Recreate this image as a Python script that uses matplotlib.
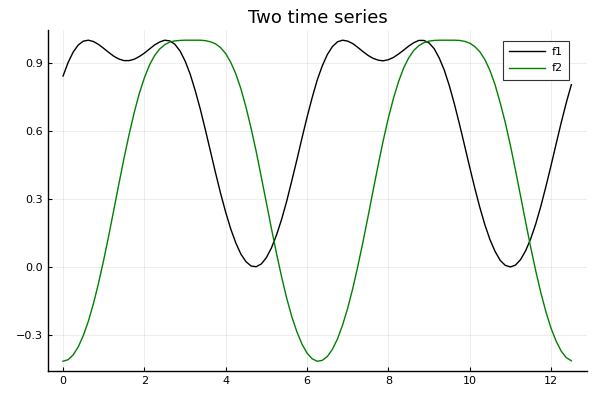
import matplotlib.pyplot as plt

# sample positions and the two series
t = [0.0, 0.125, 0.25, 0.375, 0.5, 0.625, 0.75, 0.875, 1.0, 1.125, 1.25,
     1.375, 1.5, 1.625, 1.75, 1.875, 2.0, 2.125, 2.25, 2.375, 2.5, 2.625,
     2.75, 2.875, 3.0, 3.125, 3.25, 3.375, 3.5, 3.625, 3.75, 3.875, 4.0,
     4.125, 4.25, 4.375, 4.5, 4.625, 4.75, 4.875, 5.0, 5.125, 5.25, 5.375,
     5.5, 5.625, 5.75, 5.875, 6.0, 6.125, 6.25, 6.375, 6.5, 6.625, 6.75,
     6.875, 7.0, 7.125, 7.25, 7.375, 7.5, 7.625, 7.75, 7.875, 8.0, 8.125,
     8.25, 8.375, 8.5, 8.625, 8.75, 8.875, 9.0, 9.125, 9.25, 9.375, 9.5,
     9.625, 9.75, 9.875, 10.0, 10.125, 10.25, 10.375, 10.5, 10.625, 10.75,
     10.875, 11.0, 11.125, 11.25, 11.375, 11.5, 11.625, 11.75, 11.875,
     12.0, 12.125, 12.25, 12.375, 12.5]
f1 = [0.842, 0.902, 0.948, 0.979, 0.996, 1.000, 0.994, 0.981, 0.964, 0.946,
      0.929, 0.917, 0.910, 0.910, 0.916, 0.928, 0.943, 0.961, 0.979, 0.992,
      1.000, 0.997, 0.982, 0.953, 0.909, 0.851, 0.778, 0.696, 0.605, 0.510,
      0.415, 0.324, 0.241, 0.167, 0.105, 0.056, 0.023, 0.004, 0.001, 0.013,
      0.041, 0.084, 0.141, 0.210, 0.290, 0.380, 0.472, 0.568, 0.660, 0.746,
      0.824, 0.887, 0.937, 0.972, 0.993, 1.000, 0.996, 0.985, 0.968, 0.950,
      0.933, 0.920, 0.912, 0.909, 0.914, 0.924, 0.939, 0.956, 0.974, 0.989,
      0.999, 0.999, 0.988, 0.963, 0.922, 0.868, 0.799, 0.718, 0.629, 0.535,
      0.440, 0.348, 0.262, 0.185, 0.120, 0.068, 0.029, 0.007, 0.000, 0.008,
      0.032, 0.071, 0.124, 0.190, 0.268, 0.355, 0.447, 0.542, 0.636, 0.724,
      0.804]
f2 = [-0.416, -0.409, -0.388, -0.352, -0.302, -0.238, -0.160, -0.070, 0.031,
      0.139, 0.253, 0.368, 0.480, 0.585, 0.681, 0.765, 0.834, 0.890, 0.932,
      0.961, 0.980, 0.992, 0.997, 0.999, 1.000, 1.000, 1.000, 1.000, 0.998,
      0.993, 0.984, 0.967, 0.941, 0.902, 0.851, 0.785, 0.704, 0.611, 0.509,
      0.397, 0.283, 0.169, 0.059, -0.044, -0.138, -0.219, -0.286, -0.340,
      -0.380, -0.405, -0.416, -0.412, -0.395, -0.363, -0.317, -0.256, -0.182,
      -0.095, 0.004, 0.110, 0.222, 0.337, 0.450, 0.558, 0.657, 0.743, 0.817,
      0.877, 0.922, 0.955, 0.976, 0.989, 0.996, 0.999, 1.000, 1.000, 1.000,
      1.000, 0.999, 0.995, 0.987, 0.972, 0.949, 0.914, 0.866, 0.803, 0.724,
      0.637, 0.537, 0.428, 0.314, 0.199, 0.087, -0.018, -0.114, -0.198,
      -0.270, -0.327, -0.371, -0.400, -0.414]

xticks = [0, 2, 4, 6, 8, 10, 12]
yticks = [-0.3, 0.0, 0.3, 0.6, 0.9]
ytick_labels = ['\u22120.3', '0.0', '0.3', '0.6', '0.9']

fig = plt.figure(figsize=(6, 4), dpi=100)
ax = fig.add_axes([0.08, 0.0725, 0.898, 0.8525])

ax.plot(t, f1, color='black', lw=1, label='f1')
ax.plot(t, f2, color='#008000', lw=1, label='f2')

ax.set_xlim(-0.37, 12.88)
ax.set_ylim(-0.459, 1.045)
ax.set_xticks(xticks)
ax.set_yticks(yticks)
ax.set_yticklabels(ytick_labels)
ax.tick_params(labelsize=8, length=3, width=0.8, direction='in', colors='black')
ax.grid(True, color='black', alpha=0.1, lw=0.5)
for side in ['top', 'right']:
    ax.spines[side].set_visible(False)
for side in ['left', 'bottom']:
    ax.spines[side].set_linewidth(1)

ax.set_title('Two time series', fontsize=13, pad=5)
leg = ax.legend(loc='upper right', fontsize=8, fancybox=False, framealpha=1,
                edgecolor='#333333', borderpad=0.6, labelspacing=0.55,
                handlelength=3.2, handletextpad=0.6,
                bbox_to_anchor=(0.978, 0.985))
leg.get_frame().set_linewidth(0.8)

fig.savefig('out.png')
